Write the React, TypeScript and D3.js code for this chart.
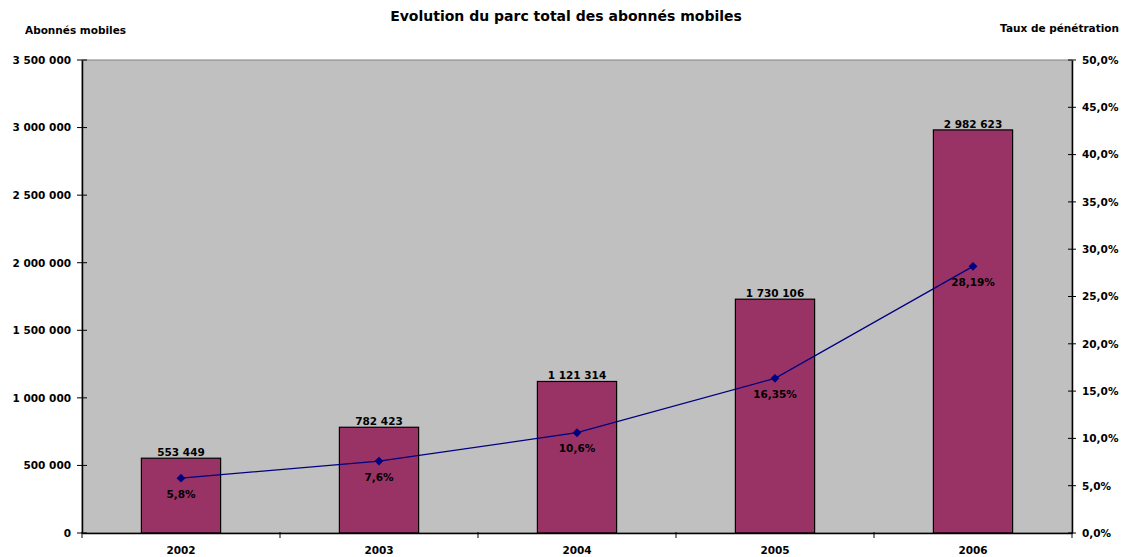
import React, { useRef, useEffect } from "react";
import * as d3 from "d3";

const years = ["2002", "2003", "2004", "2005", "2006"];
const abonnes = [553449, 782423, 1121314, 1730106, 2982623];
const penetration = [5.8, 7.6, 10.6, 16.35, 28.19];
const penetrationLabels = ["5,8%", "7,6%", "10,6%", "16,35%", "28,19%"];
const leftTicks = [0, 500000, 1000000, 1500000, 2000000, 2500000, 3000000, 3500000];
const rightTicks = [0, 5, 10, 15, 20, 25, 30, 35, 40, 45, 50];

const fmtSpace = (v: number) => d3.format(",")(v).replace(/,/g, " ");
const fmtPct = (v: number) => v.toFixed(1).replace(".", ",") + "%";

const App = () => {
  const ref = useRef<SVGSVGElement>(null);

  useEffect(() => {
    const svg = d3.select(ref.current);
    svg.selectAll("*").remove();
    const font = "'DejaVu Sans', Verdana, sans-serif";
    const fs = 10.5;
    const margin = { top: 60, right: 54, bottom: 24, left: 82 };
    const W = 1126;
    const H = 557;
    const width = W - margin.left - margin.right;
    const height = H - margin.top - margin.bottom;

    svg.style("font-family", font);

    // title + axis titles
    svg.append("text").attr("x", 566).attr("y", 21).attr("text-anchor", "middle")
      .attr("font-size", 14).attr("font-weight", "bold").text("Evolution du parc total des abonnés mobiles");
    svg.append("text").attr("x", 25).attr("y", 34)
      .attr("font-size", fs).attr("font-weight", "bold").text("Abonnés mobiles");
    svg.append("text").attr("x", 1119).attr("y", 32).attr("text-anchor", "end")
      .attr("font-size", fs).attr("font-weight", "bold").text("Taux de pénétration");

    const g = svg.append("g").attr("transform", `translate(${margin.left},${margin.top})`);

    const x = d3.scaleBand().domain(years).range([0, width]).paddingInner(0).paddingOuter(0);
    const yL = d3.scaleLinear().domain([0, 3500000]).range([height, 0]);
    const yR = d3.scaleLinear().domain([0, 50]).range([height, 0]);

    // plot area
    g.append("rect").attr("width", width).attr("height", height)
      .attr("fill", "#c0c0c0").attr("stroke", "#808080").attr("stroke-width", 1);

    // bars
    const bw = x.bandwidth() * 0.4;
    g.selectAll("rect.bar").data(abonnes).join("rect").attr("class", "bar")
      .attr("x", (_, i) => x(years[i])! + (x.bandwidth() - bw) / 2)
      .attr("y", (d) => yL(d))
      .attr("width", bw)
      .attr("height", (d) => height - yL(d))
      .attr("fill", "#993366").attr("stroke", "#000").attr("stroke-width", 1.2);

    g.selectAll("text.blab").data(abonnes).join("text").attr("class", "blab")
      .attr("x", (_, i) => x(years[i])! + x.bandwidth() / 2)
      .attr("y", (d) => yL(d) - 2)
      .attr("text-anchor", "middle").attr("font-size", fs).attr("font-weight", "bold")
      .text((d) => fmtSpace(d));

    // left axis
    const left = g.append("g").call(
      d3.axisLeft(yL).tickValues(leftTicks).tickSize(0).tickPadding(11).tickFormat((d) => fmtSpace(+d))
    );
    left.select(".domain").attr("stroke", "#000").attr("stroke-width", 1.5);
    left.selectAll("text").attr("font-size", fs).attr("font-weight", "bold").attr("font-family", font).attr("fill", "#000");
    g.append("g").selectAll("line").data(leftTicks).join("line")
      .attr("x1", -5).attr("x2", 5).attr("y1", (d) => yL(d)).attr("y2", (d) => yL(d))
      .attr("stroke", "#000").attr("stroke-width", 1);

    // right axis
    const right = g.append("g").attr("transform", `translate(${width},0)`).call(
      d3.axisRight(yR).tickValues(rightTicks).tickSize(0).tickPadding(10).tickFormat((d) => fmtPct(+d))
    );
    right.select(".domain").attr("stroke", "#000").attr("stroke-width", 1.5);
    right.selectAll("text").attr("font-size", fs).attr("font-weight", "bold").attr("font-family", font).attr("fill", "#000");
    g.append("g").selectAll("line").data(rightTicks).join("line")
      .attr("x1", width - 4).attr("x2", width + 4).attr("y1", (d) => yR(d)).attr("y2", (d) => yR(d))
      .attr("stroke", "#000").attr("stroke-width", 1);

    // bottom axis
    const bottom = g.append("g").attr("transform", `translate(0,${height})`)
      .call(d3.axisBottom(x).tickSize(0).tickPadding(14));
    bottom.select(".domain").attr("stroke", "#000").attr("stroke-width", 1.5);
    bottom.selectAll("text").attr("font-size", fs).attr("font-weight", "bold").attr("font-family", font).attr("fill", "#000");
    const bounds = years.map((yr) => x(yr)!).concat([width]);
    g.append("g").selectAll("line").data(bounds).join("line")
      .attr("x1", (d) => d).attr("x2", (d) => d).attr("y1", height - 1).attr("y2", height + 5)
      .attr("stroke", "#000").attr("stroke-width", 1);

    // line
    const line = d3.line<number>()
      .x((_, i) => x(years[i])! + x.bandwidth() / 2)
      .y((d) => yR(d));
    g.append("path").datum(penetration).attr("d", line)
      .attr("fill", "none").attr("stroke", "#000080").attr("stroke-width", 1.3);

    const sym = d3.symbol().type(d3.symbolDiamond2).size(50);
    g.selectAll("path.pt").data(penetration).join("path").attr("class", "pt")
      .attr("transform", (d, i) => `translate(${x(years[i])! + x.bandwidth() / 2},${yR(d)})`)
      .attr("d", sym()!).attr("fill", "#000080");

    g.selectAll("text.plab").data(penetration).join("text").attr("class", "plab")
      .attr("x", (_, i) => x(years[i])! + x.bandwidth() / 2)
      .attr("y", (d) => yR(d) + 19.5)
      .attr("text-anchor", "middle").attr("font-size", fs).attr("font-weight", "bold")
      .text((_, i) => penetrationLabels[i]);
  }, []);

  return (
    <svg ref={ref} width={1126} height={557}
      style={{ position: "absolute", left: 0, top: 0, background: "#fff" }} />
  );
};

export default App;
